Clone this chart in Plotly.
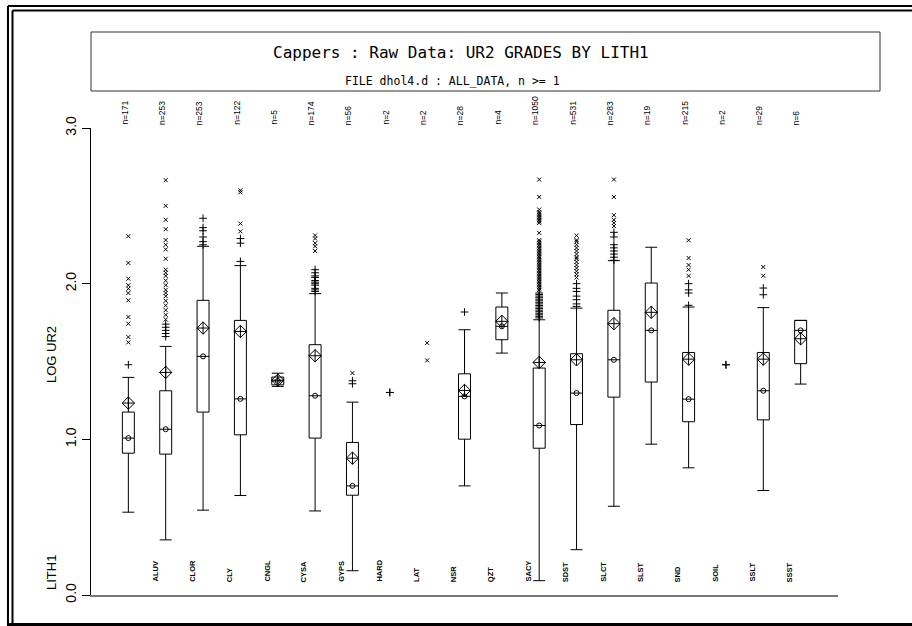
import plotly.graph_objects as go

# ---- data -------------------------------------------------------------
categories = ["", "ALUV", "CLOR", "CLY", "CNGL", "CYSA", "GYPS", "HARD", "LAT",
              "NSR", "QZT", "SACY", "SDST", "SLCT", "SLST", "SND", "SOIL", "SSLT", "SSST"]
counts = [171, 253, 253, 122, 5, 174, 56, 2, 2, 28, 4, 1050, 531, 283, 19, 215, 2, 29, 6]

# box statistics (log UR2); None where the group is too small for a box
lower = [0.532, 0.354, 0.545, 0.639, 1.340, 0.540, 0.156, None, None, 0.701,
         1.554, 0.092, 0.291, 0.570, 0.969, 0.817, None, 0.671, 1.355]
q1 = [0.911, 0.905, 1.175, 1.029, 1.350, 1.008, 0.641, None, None, 1.001,
      1.640, 0.943, 1.095, 1.271, 1.368, 1.113, None, 1.125, 1.486]
median = [1.008, 1.065, 1.533, 1.260, 1.375, 1.280, 0.701, None, None, 1.276,
          1.726, 1.089, 1.297, 1.511, 1.700, 1.258, None, 1.312, 1.700]
q3 = [1.175, 1.312, 1.893, 1.764, 1.400, 1.608, 0.980, None, None, 1.421,
      1.850, 1.458, 1.550, 1.829, 2.004, 1.558, None, 1.558, 1.764]
upper = [1.398, 1.597, 2.240, 2.116, 1.425, 1.936, 1.239, None, None, 1.704,
         1.940, 1.768, 1.843, 2.148, 2.234, 1.850, None, 1.846, 1.764]
mean = [1.233, 1.430, 1.715, 1.693, 1.380, 1.537, 0.879, None, None, 1.314,
        1.758, 1.494, 1.511, 1.743, 1.816, 1.515, None, 1.515, 1.646]

# outside values: '+' (near) and 'x' (far)
near_out = [
    [1.479],
    [1.66, 1.68, 1.70, 1.72, 1.74],
    [2.25, 2.27, 2.30, 2.34, 2.36, 2.42],
    [2.143, 2.26, 2.29],
    [],
    [1.95, 1.96, 1.97, 1.99, 2.00, 2.01, 2.02, 2.04, 2.05, 2.07, 2.09],
    [1.357, 1.376],
    [1.301, 1.301],
    [],
    [1.818],
    [],
    [1.78, 1.79, 1.80, 1.81, 1.82, 1.83, 1.84, 1.85, 1.86, 1.87, 1.88, 1.89,
     1.90, 1.91, 1.92, 1.93, 1.94],
    [1.854, 1.87, 1.897, 1.92, 1.95, 1.97, 2.00],
    [2.15, 2.17, 2.19, 2.21, 2.23, 2.25, 2.30, 2.33],
    [],
    [1.861, 1.94, 1.96, 2.00],
    [1.479, 1.479],
    [1.929, 1.972],
    [],
]
far_out = [
    [1.623, 1.657, 1.743, 1.786, 1.893, 1.940, 1.968, 1.990, 2.032, 2.133, 2.305],
    [1.77, 1.80, 1.83, 1.86, 1.89, 1.92, 1.94, 1.96, 1.99, 2.02, 2.05, 2.07,
     2.09, 2.16, 2.22, 2.25, 2.28, 2.35, 2.41, 2.50, 2.665],
    [],
    [2.336, 2.386, 2.587, 2.600],
    [],
    [2.21, 2.24, 2.26, 2.29, 2.31],
    [1.426],
    [],
    [1.507, 1.619],
    [],
    [],
    [1.96, 1.97, 1.98, 1.99, 2.00, 2.01, 2.02, 2.03, 2.04, 2.05, 2.06, 2.07,
     2.08, 2.09, 2.10, 2.11, 2.12, 2.13, 2.14, 2.15, 2.16, 2.17, 2.18, 2.19,
     2.20, 2.21, 2.22, 2.23, 2.24, 2.25, 2.26, 2.27, 2.28, 2.326, 2.39, 2.40,
     2.41, 2.42, 2.43, 2.44, 2.45, 2.46, 2.476, 2.557, 2.669],
    [2.04, 2.06, 2.08, 2.10, 2.12, 2.14, 2.16, 2.17, 2.19, 2.21, 2.23, 2.25,
     2.27, 2.28, 2.309],
    [2.37, 2.39, 2.41, 2.44, 2.557, 2.669],
    [],
    [2.05, 2.09, 2.12, 2.165, 2.279],
    [],
    [2.051, 2.107],
    [],
]

y_tick_vals = [0, 1, 2, 3]
y_tick_text = ["0.0", "1.0", "2.0", "3.0"]

title_text = "Cappers : Raw Data: UR2 GRADES BY LITH1"
subtitle_text = "FILE dhol4.d : ALL_DATA, n >= 1"

# ---- page geometry (pixels) -------------------------------------------
W_PAGE, H_PAGE = 912, 626
M_L, M_R, M_T, M_B = 91, 74, 128, 31
PW = W_PAGE - M_L - M_R
PH = H_PAGE - M_T - M_B


def fx(px):
    return (px - M_L) / PW


def fy(py):
    return (H_PAGE - M_B - py) / PH


FONT = "Liberation Sans"
MONO = "DejaVu Sans Mono"
positions = list(range(1, len(categories) + 1))

fig = go.Figure()

box_idx = [i for i in range(len(categories)) if q1[i] is not None]
fig.add_trace(go.Box(
    x=[positions[i] for i in box_idx],
    q1=[q1[i] for i in box_idx],
    median=[median[i] for i in box_idx],
    q3=[q3[i] for i in box_idx],
    lowerfence=[lower[i] for i in box_idx],
    upperfence=[upper[i] for i in box_idx],
    width=0.32,
    whiskerwidth=1,
    fillcolor="white",
    line=dict(color="black", width=1),
    boxpoints=False,
    hoverinfo="skip",
))

# median circles
fig.add_trace(go.Scatter(
    x=[positions[i] for i in box_idx],
    y=[median[i] for i in box_idx],
    mode="markers",
    marker=dict(symbol="circle-open", size=5, color="black", line=dict(width=1)),
    hoverinfo="skip",
))

# means
fig.add_trace(go.Scatter(
    x=[positions[i] for i in box_idx],
    y=[mean[i] for i in box_idx],
    mode="markers",
    marker=dict(symbol="diamond-cross-open", size=9.5, color="black", line=dict(width=1)),
    hoverinfo="skip",
))

# outside values
nx, ny, fxs, fys = [], [], [], []
for i, vals in enumerate(near_out):
    nx += [positions[i]] * len(vals)
    ny += vals
for i, vals in enumerate(far_out):
    fxs += [positions[i]] * len(vals)
    fys += vals
fig.add_trace(go.Scatter(
    x=nx, y=ny, mode="markers",
    marker=dict(symbol="cross-thin-open", size=5.5, color="black", line=dict(width=1, color="black")),
    hoverinfo="skip",
))
fig.add_trace(go.Scatter(
    x=fxs, y=fys, mode="markers",
    marker=dict(symbol="x-thin-open", size=4, color="black", line=dict(width=1, color="black")),
    hoverinfo="skip",
))

# small cross at the right end of the baseline
fig.add_trace(go.Scatter(
    x=[21.2], y=[0], mode="markers", cliponaxis=False,
    marker=dict(symbol="cross-thin-open", size=3, color="black", line=dict(width=1, color="black")),
    hoverinfo="skip",
))

annotations = []
# group counts above the plot
for i, n in enumerate(counts):
    annotations.append(dict(
        x=positions[i] - 0.1, y=fy(127), xref="x", yref="paper",
        text=f"n={n}", textangle=-90, showarrow=False,
        xanchor="center", yanchor="bottom",
        font=dict(family=FONT, size=8.5, color="black"),
    ))
# lithology codes along the bottom
for i, c in enumerate(categories):
    if not c:
        continue
    annotations.append(dict(
        x=positions[i] - 0.3, y=fy(584), xref="x", yref="paper",
        text=f"<b>{c}</b>", textangle=-90, showarrow=False,
        xanchor="center", yanchor="bottom",
        font=dict(family=FONT, size=7.5, color="black"),
    ))
annotations += [
    dict(x=fx(51), y=fy(355), xref="paper", yref="paper", text="LOG UR2",
         textangle=-90, showarrow=False, xanchor="center", yanchor="middle",
         font=dict(family=FONT, size=13, color="black")),
    dict(x=fx(51), y=fy(573), xref="paper", yref="paper", text="LITH1",
         textangle=-90, showarrow=False, xanchor="center", yanchor="middle",
         font=dict(family=FONT, size=13, color="black")),
    dict(x=fx(461), y=fy(53), xref="paper", yref="paper", text=title_text,
         showarrow=False, xanchor="center", yanchor="middle",
         font=dict(family=MONO, size=16, color="black")),
    dict(x=fx(452), y=fy(81), xref="paper", yref="paper", text=subtitle_text,
         showarrow=False, xanchor="center", yanchor="middle",
         font=dict(family=MONO, size=11.5, color="black")),
]

shapes = [
    # heading box
    dict(type="rect", xref="paper", yref="paper",
         x0=fx(91), x1=fx(880), y0=fy(32), y1=fy(91),
         line=dict(color="#333", width=1)),
]
# double page frame
for off in (0, 4.5):
    shapes.append(dict(type="line", xref="paper", yref="paper",
                       x0=fx(8 + off), x1=fx(8 + off), y0=fy(6 + off), y1=fy(630),
                       line=dict(color="black", width=2)))
    shapes.append(dict(type="line", xref="paper", yref="paper",
                       x0=fx(8 + off), x1=fx(915), y0=fy(6 + off), y1=fy(6 + off),
                       line=dict(color="black", width=2)))
shapes.append(dict(type="line", xref="paper", yref="paper",
                   x0=fx(8), x1=fx(915), y0=fy(624.5), y1=fy(624.5),
                   line=dict(color="black", width=3)))

fig.update_layout(
    width=W_PAGE, height=H_PAGE,
    margin=dict(l=M_L, r=M_R, t=M_T, b=M_B, autoexpand=False),
    paper_bgcolor="white", plot_bgcolor="white",
    showlegend=False,
    annotations=annotations,
    shapes=shapes,
    xaxis=dict(range=[0, 20], showline=True, linecolor="#777", linewidth=1.5,
               showticklabels=False, ticks="", showgrid=False, zeroline=False),
    yaxis=dict(range=[0, 3], showline=True, linecolor="black", linewidth=1,
               ticks="outside", ticklen=8, tickcolor="black",
               tickvals=y_tick_vals, ticktext=y_tick_text, tickangle=-90,
               tickfont=dict(family=FONT, size=14, color="black"),
               showgrid=False, zeroline=False),
)

fig.write_html("out.html")
